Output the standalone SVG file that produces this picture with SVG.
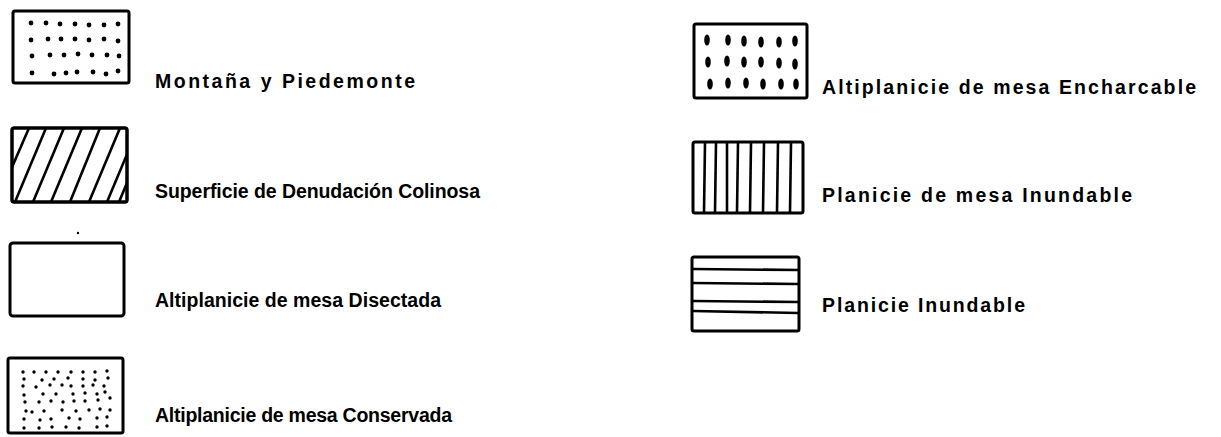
<svg xmlns="http://www.w3.org/2000/svg" width="1221" height="437" viewBox="0 0 1221 437">
<style>
.box{fill:#fff;stroke:#000;stroke-width:3;stroke-linejoin:round}
.ln{stroke:#000;stroke-width:2.6;fill:none}
.d{fill:#000}
text{font-family:"Liberation Sans",Arial,sans-serif;font-size:19.5px;font-weight:bold;fill:#000}
</style>
<defs>
<clipPath id="c2"><rect x="12" y="128" width="115" height="74"/></clipPath>
</defs>
<rect width="1221" height="437" fill="#fff"/>

<g id="montana">
<rect class="box" x="13" y="11" width="116" height="72" rx="2"/>
<g class="d">
<circle cx="31" cy="23" r="2.4"/><circle cx="46" cy="23" r="2.4"/><circle cx="60" cy="24" r="2.4"/><circle cx="75" cy="24" r="2.4"/><circle cx="89" cy="25" r="2.4"/><circle cx="104" cy="25" r="2.4"/><circle cx="118" cy="24" r="2.4"/>
<circle cx="31" cy="40" r="2.4"/><circle cx="48" cy="39" r="2.4"/><circle cx="61" cy="39" r="2.4"/><circle cx="75" cy="39" r="2.4"/><circle cx="89" cy="40" r="2.4"/><circle cx="104" cy="39" r="2.4"/><circle cx="118" cy="41" r="2.4"/>
<circle cx="32" cy="56" r="2.4"/><circle cx="50" cy="55" r="2.4"/><circle cx="64" cy="55" r="2.4"/><circle cx="78" cy="54" r="2.4"/><circle cx="92" cy="55" r="2.4"/><circle cx="107" cy="55" r="2.4"/><circle cx="119" cy="56" r="2.4"/>
<circle cx="32" cy="73" r="2.4"/><circle cx="54" cy="74" r="2.4"/><circle cx="66" cy="73" r="2.4"/><circle cx="77" cy="72" r="2.4"/><circle cx="93" cy="72" r="2.4"/><circle cx="106" cy="74" r="2.4"/><circle cx="118" cy="71" r="2.4"/>
</g>
<text x="155" y="88" textLength="260" lengthAdjust="spacing">Montaña y Piedemonte</text>
</g>

<g id="superficie">
<rect class="box" x="12" y="128" width="115" height="74" rx="2"/>
<g clip-path="url(#c2)" class="ln">
<line x1="-3" y1="202" x2="29" y2="128"/>
<line x1="15" y1="202" x2="46" y2="128"/>
<line x1="33" y1="202" x2="64" y2="128"/>
<line x1="51" y1="202" x2="82" y2="128"/>
<line x1="70" y1="202" x2="100" y2="128"/>
<line x1="89" y1="202" x2="120" y2="128"/>
<line x1="107" y1="202" x2="138" y2="128"/>
<line x1="119" y1="202" x2="150" y2="128"/>
</g>
<rect class="box" x="12" y="128" width="115" height="74" rx="2" style="fill:none"/>
<text x="155" y="198" textLength="325" lengthAdjust="spacing">Superficie de Denudación Colinosa</text>
</g>

<g id="disectada">
<circle class="d" cx="78" cy="233" r="1.2"/>
<rect class="box" x="10" y="243" width="114" height="73" rx="3"/>
<text x="155" y="307" textLength="286" lengthAdjust="spacing">Altiplanicie de mesa Disectada</text>
</g>

<g id="conservada">
<rect class="box" x="8" y="358" width="115" height="75" rx="2"/>
<g class="d">
<circle cx="23" cy="372" r="1.7"/><circle cx="34" cy="372" r="1.7"/><circle cx="46" cy="372" r="1.7"/><circle cx="58" cy="372" r="1.7"/><circle cx="71" cy="372" r="1.7"/><circle cx="83" cy="372" r="1.7"/><circle cx="95" cy="372" r="1.7"/><circle cx="107" cy="371" r="1.7"/>
<circle cx="24" cy="379" r="1.7"/><circle cx="42" cy="380" r="1.7"/><circle cx="54" cy="379" r="1.7"/><circle cx="68" cy="378" r="1.7"/><circle cx="83" cy="379" r="1.7"/><circle cx="95" cy="380" r="1.7"/><circle cx="108" cy="378" r="1.7"/>
<circle cx="23" cy="386" r="1.7"/><circle cx="36" cy="387" r="1.7"/><circle cx="50" cy="385" r="1.7"/><circle cx="62" cy="385" r="1.7"/><circle cx="71" cy="386" r="1.7"/><circle cx="83" cy="386" r="1.7"/><circle cx="93" cy="385" r="1.7"/><circle cx="104" cy="386" r="1.7"/>
<circle cx="24" cy="395" r="1.7"/><circle cx="43" cy="394" r="1.7"/><circle cx="56" cy="394" r="1.7"/><circle cx="73" cy="394" r="1.7"/><circle cx="85" cy="393" r="1.7"/><circle cx="97" cy="394" r="1.7"/><circle cx="105" cy="392" r="1.7"/>
<circle cx="25" cy="402" r="1.7"/><circle cx="39" cy="402" r="1.7"/><circle cx="51" cy="401" r="1.7"/><circle cx="63" cy="402" r="1.7"/><circle cx="74" cy="401" r="1.7"/><circle cx="85" cy="401" r="1.7"/><circle cx="98" cy="400" r="1.7"/><circle cx="110" cy="398" r="1.7"/>
<circle cx="26" cy="411" r="1.7"/><circle cx="32" cy="412" r="1.7"/><circle cx="44" cy="411" r="1.7"/><circle cx="62" cy="410" r="1.7"/><circle cx="76" cy="411" r="1.7"/><circle cx="89" cy="410" r="1.7"/><circle cx="100" cy="409" r="1.7"/><circle cx="110" cy="410" r="1.7"/>
<circle cx="24" cy="419" r="1.7"/><circle cx="40" cy="420" r="1.7"/><circle cx="51" cy="419" r="1.7"/><circle cx="69" cy="418" r="1.7"/><circle cx="80" cy="419" r="1.7"/><circle cx="97" cy="418" r="1.7"/><circle cx="107" cy="417" r="1.7"/>
<circle cx="24" cy="428" r="1.7"/><circle cx="39" cy="428" r="1.7"/><circle cx="52" cy="427" r="1.7"/><circle cx="66" cy="427" r="1.7"/><circle cx="79" cy="428" r="1.7"/><circle cx="97" cy="427" r="1.7"/><circle cx="107" cy="426" r="1.7"/>
</g>
<text x="155" y="422" textLength="297" lengthAdjust="spacing">Altiplanicie de mesa Conservada</text>
</g>

<g id="encharcable">
<rect class="box" x="694" y="24" width="113" height="74" rx="2"/>
<g class="d">
<ellipse cx="707" cy="40" rx="2.8" ry="5.5"/><ellipse cx="728" cy="40" rx="2.8" ry="5.5"/><ellipse cx="744" cy="41" rx="2.8" ry="5.5"/><ellipse cx="761" cy="42" rx="2.8" ry="5.5"/><ellipse cx="779" cy="42" rx="2.8" ry="5.5"/><ellipse cx="795" cy="41" rx="2.8" ry="5.5"/>
<ellipse cx="708" cy="62" rx="2.8" ry="5.5"/><ellipse cx="727" cy="61" rx="2.8" ry="5.5"/><ellipse cx="744" cy="62" rx="2.8" ry="5.5"/><ellipse cx="761" cy="62" rx="2.8" ry="5.5"/><ellipse cx="779" cy="63" rx="2.8" ry="5.5"/><ellipse cx="795" cy="64" rx="2.8" ry="5.5"/>
<ellipse cx="710" cy="84" rx="2.8" ry="5.5"/><ellipse cx="728" cy="83" rx="2.8" ry="5.5"/><ellipse cx="746" cy="83" rx="2.8" ry="5.5"/><ellipse cx="763" cy="84" rx="2.8" ry="5.5"/><ellipse cx="781" cy="84" rx="2.8" ry="5.5"/><ellipse cx="796" cy="84" rx="2.8" ry="5.5"/>
</g>
<text x="822" y="94" textLength="374" lengthAdjust="spacing">Altiplanicie de mesa Encharcable</text>
</g>

<g id="planicie-mesa">
<rect class="box" x="693" y="142" width="110" height="71" rx="2"/>
<g class="ln">
<line x1="705" y1="143" x2="704" y2="212"/>
<line x1="716" y1="143" x2="715" y2="212"/>
<line x1="727" y1="143" x2="727" y2="212"/>
<line x1="738" y1="143" x2="737" y2="212"/>
<line x1="751" y1="143" x2="750" y2="212"/>
<line x1="764" y1="143" x2="763" y2="212"/>
<line x1="778" y1="143" x2="777" y2="212"/>
<line x1="791" y1="143" x2="790" y2="212"/>
</g>
<text x="822" y="202" textLength="310" lengthAdjust="spacing">Planicie de mesa Inundable</text>
</g>

<g id="planicie">
<rect class="box" x="692" y="257" width="107" height="74" rx="2"/>
<g class="ln">
<line x1="693" y1="269" x2="798" y2="270"/>
<line x1="693" y1="283" x2="798" y2="284"/>
<line x1="693" y1="301" x2="798" y2="302"/>
<line x1="693" y1="311" x2="798" y2="313"/>
</g>
<text x="822" y="312" textLength="203" lengthAdjust="spacing">Planicie Inundable</text>
</g>
</svg>
